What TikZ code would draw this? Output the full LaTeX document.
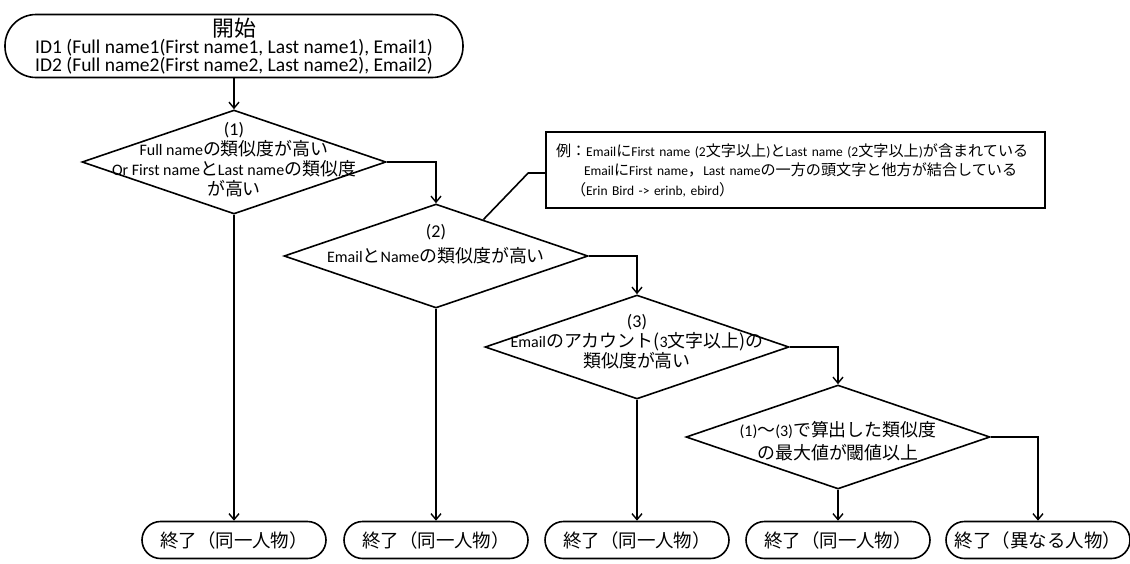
\documentclass[tikz,border=0pt]{standalone}
\usepackage{fontspec}
\setmainfont{Carlito}
\newfontfamily\jpfont{Noto Sans CJK JP}[Scale=1.12]
\newcommand\J[1]{{\jpfont #1}}
\usetikzlibrary{shapes.geometric,arrows.meta,calc}
\begin{document}
\begin{tikzpicture}[x=1pt,y=-1pt,
  lw/.style={line width=1.6pt},
  flow/.style={line width=1.6pt,-{Straight Barb[length=6pt,width=10pt,line width=1.4pt]}},
  dia/.style={draw,line width=1.6pt,diamond,inner sep=0pt,minimum width=304pt,minimum height=104pt},
  term/.style={draw,line width=1.6pt,rectangle,rounded corners=18.5pt,minimum width=184pt,minimum height=37pt,inner sep=0pt,font=\fontsize{16.5}{18}\selectfont},
  lbl/.style={align=center,inner sep=0pt,font=\fontsize{16}{20}\selectfont}]
\useasboundingbox (0,0) rectangle (1130,563);
% start
\node[draw,line width=1.6pt,rectangle,rounded corners=31pt,minimum width=458pt,minimum height=63pt,inner sep=0pt,align=center,font=\fontsize{19.5}{17.5}\selectfont] (start) at (234,46)
  {\J{開始}\\ID1 (Full name1(First name1, Last name1), Email1)\\ID2 (Full name2(First name2, Last name2), Email2)};
% diamonds
\node[dia] (d1) at (234,162) {};
\node[dia] (d2) at (436,256) {};
\node[dia] (d3) at (637,347) {};
\node[dia] (d4) at (838,437) {};
\node[lbl] (t1) at (234,160) {{\fontsize{18}{20}\selectfont (1)}\\Full name\J{の類似度が高い}\\Or First name\J{と}Last name\J{の類似度}\\\J{が高い}};
\node[lbl] (t2) at (436,244) {{\fontsize{18}{20}\selectfont (2)}\\[5pt]Email\J{と}Name\J{の類似度が高い}};
\node[lbl] (t3) at (637,342) {{\fontsize{18}{20}\selectfont (3)}\\Email\J{のアカウント(}3\J{文字以上)の}\\\J{類似度が高い}};
\node[lbl,font=\fontsize{16}{23}\selectfont] (t4) at (838,441) {(1)\J{〜}(3)\J{で算出した類似度}\\\J{の最大値が閾値以上}};
% terminals
\node[term] (e1) at (234,540) {\J{終了（同一人物）}};
\node[term] (e2) at (436,540) {\J{終了（同一人物）}};
\node[term] (e3) at (637,540) {\J{終了（同一人物）}};
\node[term] (e4) at (838,540) {\J{終了（同一人物）}};
\node[term] (e5) at (1038,540) {\J{終了（異なる人物）}};
% note
\node[draw,line width=1.6pt,rectangle,minimum width=499pt,minimum height=76pt,inner xsep=10pt,inner ysep=0pt,text width=479pt,align=left,font=\fontsize{13.5}{19.5}\selectfont] (note) at (795.5,170)
  {\J{例：}Email\J{に}First name (2\J{文字以上})\J{と}Last name (2\J{文字以上})\J{が含まれている}\\
   \hspace*{28pt}Email\J{に}First name\J{，}Last name\J{の一方の頭文字と他方が結合している}\\
   \hspace*{15pt}\J{（}Erin Bird -> erinb, ebird\J{）}};
\coordinate (cb) at ($(note.west)+(-17,3)$);
\coordinate (ce) at ($(d2.north)!0.31!(d2.east)$);
\draw[lw] ($(note.west)+(0,3)$) -- (cb) -- (ce);
% connectors
\draw[flow] (start.south) -- (d1.north);
\draw[flow] (d1.east) -| (d2.north);
\draw[flow] (d2.east) -| (d3.north);
\draw[flow] (d3.east) -| (d4.north);
\draw[flow] (d4.east) -| (e5.north);
\draw[flow] (d1.south) -- (e1.north);
\draw[flow] (d2.south) -- (e2.north);
\draw[flow] (d3.south) -- (e3.north);
\draw[flow] (d4.south) -- (e4.north);
\end{tikzpicture}
\end{document}
